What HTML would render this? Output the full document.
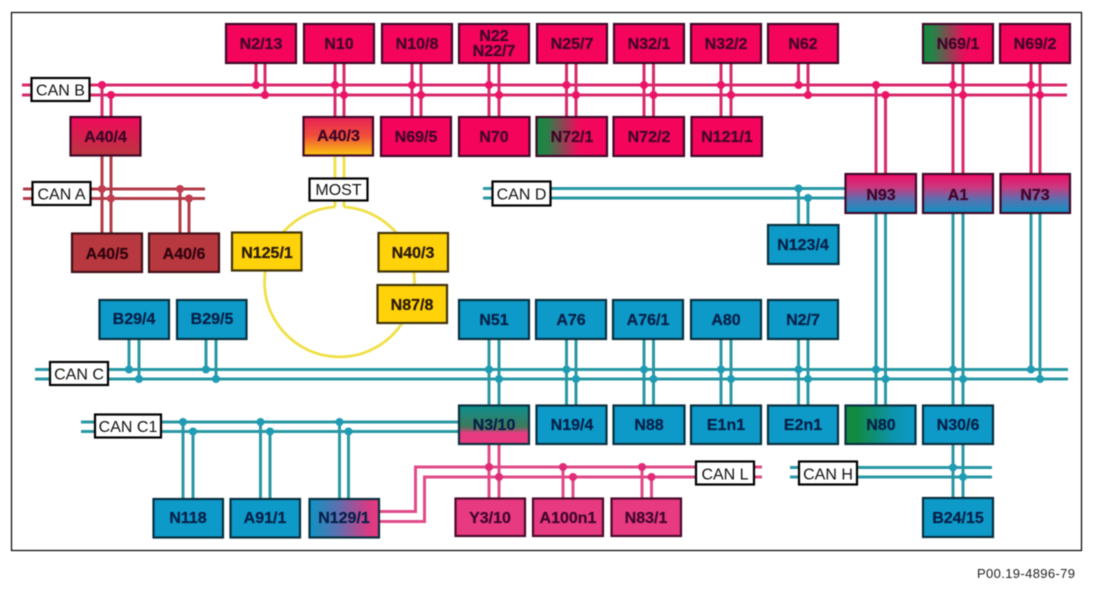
<!DOCTYPE html>
<html><head><meta charset="utf-8"><style>
html,body{margin:0;padding:0;background:#fff;width:1094px;height:592px;overflow:hidden}
svg{display:block;filter:blur(.4px)}
text{font-family:"Liberation Sans",sans-serif}
.b text{font-weight:bold;font-size:16px;text-anchor:middle;stroke-width:.25px}
.l rect{fill:#fff;stroke:#000;stroke-width:2.2}
.l text{font-size:16px;text-anchor:middle;fill:#111}
.bx rect{stroke-width:2.2}
.p rect{fill:#f5045c;stroke:#3f0828}.p text{fill:#3f0528;stroke:#3f0528}
.u rect{fill:#0d9ac8;stroke:#08303f}.u text{fill:#04204a;stroke:#04204a}
.r rect{fill:#b8383f;stroke:#3f1018}.r text{fill:#33040f;stroke:#33040f}
.y rect{fill:#ffd20a;stroke:#3f3208}.y text{fill:#2a1a08;stroke:#2a1a08}
.m rect{fill:#e83a80;stroke:#4a0a2c}.m text{fill:#42062e;stroke:#42062e}
</style></head><body>
<svg width="1094" height="592" viewBox="0 0 1094 592" xmlns="http://www.w3.org/2000/svg">
<defs>
<linearGradient id="g404" x1="0" y1="0" x2="0" y2="1"><stop offset="0" stop-color="#f00a5c"/><stop offset="1" stop-color="#bb3640"/></linearGradient>
<linearGradient id="g403" x1="0" y1="0" x2="0" y2="1"><stop offset="0" stop-color="#e82058"/><stop offset=".5" stop-color="#f0503a"/><stop offset="1" stop-color="#fcc80e"/></linearGradient>
<linearGradient id="gpb" x1="0" y1="0" x2="0" y2="1"><stop offset="0" stop-color="#ee0c66"/><stop offset=".35" stop-color="#c83a80"/><stop offset=".65" stop-color="#5a70b0"/><stop offset="1" stop-color="#0d94c4"/></linearGradient>
<linearGradient id="gn3" x1="0" y1="0" x2="0" y2="1"><stop offset="0" stop-color="#0c9090"/><stop offset=".55" stop-color="#3f7a5c"/><stop offset=".72" stop-color="#e83a80"/><stop offset="1" stop-color="#e83a80"/></linearGradient>
<linearGradient id="ggp" x1="0" y1="0" x2="1" y2="0"><stop offset="0" stop-color="#128a40"/><stop offset=".15" stop-color="#2a8048"/><stop offset=".6" stop-color="#f00a5c"/><stop offset="1" stop-color="#f5045c"/></linearGradient>
<linearGradient id="ggb" x1="0" y1="0" x2="1" y2="0"><stop offset="0" stop-color="#128a40"/><stop offset=".15" stop-color="#128a40"/><stop offset=".7" stop-color="#0d94b0"/><stop offset="1" stop-color="#0d9ac8"/></linearGradient>
<linearGradient id="gbm" x1="0" y1="0" x2="1" y2="0"><stop offset="0" stop-color="#0d94c4"/><stop offset=".4" stop-color="#5a70b0"/><stop offset=".85" stop-color="#d83a84"/><stop offset="1" stop-color="#e83a80"/></linearGradient>
</defs>
<rect x="11.5" y="12.5" width="1070" height="538" fill="#fff" stroke="#000" stroke-width="1.2"/>

<!-- MOST ring -->
<g fill="none" stroke="#f0e048" stroke-width="2.800">
<path d="M335 207 A75 75 0 1 0 344 207"/>
<path d="M335 156V207M344 156V207"/>
</g>

<!-- CAN B lines -->
<g fill="none" stroke="#d82a6c" stroke-width="3">
<path d="M22 85H1067M22 95H1067"/>
<path d="M102 85V117M111 95V117M256 63V85M265 63V95M335 63V117M344 63V117M412 63V117M421 63V117M489 63V117M499 63V117M566.500 63V117M576 63V117M644 63V117M653.500 63V117M721 63V117M731 63V117M798.500 63V85M808 63V95M876 85V174M885.500 95V174M953 63V174M963 63V174M1031 63V174M1040 63V174"/>
</g>
<g fill="#ec1468">
<circle cx="102" cy="85" r="4"/><circle cx="111" cy="95" r="4"/>
<circle cx="256" cy="85" r="4"/><circle cx="265" cy="95" r="4"/>
<circle cx="335" cy="85" r="4"/><circle cx="344" cy="95" r="4"/>
<circle cx="412" cy="85" r="4"/><circle cx="421" cy="95" r="4"/>
<circle cx="489" cy="85" r="4"/><circle cx="499" cy="95" r="4"/>
<circle cx="566.500" cy="85" r="4"/><circle cx="576" cy="95" r="4"/>
<circle cx="644" cy="85" r="4"/><circle cx="653.500" cy="95" r="4"/>
<circle cx="721" cy="85" r="4"/><circle cx="731" cy="95" r="4"/>
<circle cx="798.500" cy="85" r="4"/><circle cx="808" cy="95" r="4"/>
<circle cx="876" cy="85" r="4"/><circle cx="885.500" cy="95" r="4"/>
<circle cx="953" cy="85" r="4"/><circle cx="963" cy="95" r="4"/>
<circle cx="1031" cy="85" r="4"/><circle cx="1040" cy="95" r="4"/>
</g>

<!-- CAN A lines -->
<g fill="none" stroke="#b03c48" stroke-width="3">
<path d="M23 189H205M23 198.500H205"/>
<path d="M102 156V233M111 156V233M180 189V233M189 198.500V233"/>
</g>
<g fill="#c23c50">
<circle cx="102" cy="189" r="4"/><circle cx="111" cy="198.500" r="4"/>
<circle cx="180" cy="189" r="4"/><circle cx="189" cy="198.500" r="4"/>
</g>

<!-- CAN D and CAN C lines -->
<g fill="none" stroke="#2a98a4" stroke-width="3">
<path d="M483 188.500H845M483 198H845"/>
<path d="M798.500 188.500V225M808 198V225"/>
<path d="M35 369.500H1068M35 379H1068"/>
<path d="M81 422H459M81 431.500H459"/>
<path d="M790 467.500H992M790 477H992"/>
<path d="M129 339V369.500M139 339V379M206 339V369.500M216 339V379"/>
<path d="M489 339V405M499 339V405M566.500 339V405M576 339V405M644 339V405M653.500 339V405M721 339V405M731 339V405M798.500 339V405M808 339V405"/>
<path d="M876 213V405M885.500 213V405M953 213V405M963 213V405M1031 213V369.500M1040 213V379"/>
<path d="M953 444V498M963 444V498"/>
<path d="M183 422V499M193 431.500V499M260.500 422V499M270 431.500V499M339.500 422V499M348.500 431.500V499"/>
</g>
<g fill="#1f9cb4">
<circle cx="798.500" cy="188.500" r="4"/><circle cx="808" cy="198" r="4"/>
<circle cx="129" cy="369.500" r="4"/><circle cx="139" cy="379" r="4"/>
<circle cx="206" cy="369.500" r="4"/><circle cx="216" cy="379" r="4"/>
<circle cx="489" cy="369.500" r="4"/><circle cx="499" cy="379" r="4"/>
<circle cx="566.500" cy="369.500" r="4"/><circle cx="576" cy="379" r="4"/>
<circle cx="644" cy="369.500" r="4"/><circle cx="653.500" cy="379" r="4"/>
<circle cx="721" cy="369.500" r="4"/><circle cx="731" cy="379" r="4"/>
<circle cx="798.500" cy="369.500" r="4"/><circle cx="808" cy="379" r="4"/>
<circle cx="876" cy="369.500" r="4"/><circle cx="885.500" cy="379" r="4"/>
<circle cx="953" cy="369.500" r="4"/><circle cx="963" cy="379" r="4"/>
<circle cx="1031" cy="369.500" r="4"/><circle cx="1040" cy="379" r="4"/>
<circle cx="183" cy="422" r="4"/><circle cx="193" cy="431.500" r="4"/>
<circle cx="260.500" cy="422" r="4"/><circle cx="270" cy="431.500" r="4"/>
<circle cx="339.500" cy="422" r="4"/><circle cx="348.500" cy="431.500" r="4"/>
<circle cx="953" cy="467.500" r="4"/><circle cx="963" cy="477" r="4"/>
</g>

<!-- CAN L lines -->
<g fill="none" stroke="#e04a88" stroke-width="3">
<path d="M379 511.500H415.500V467H762M379 521.500H424.500V477H762"/>
<path d="M489 444V498M499 444V498M563 467V498M573 477V498M642 467V498M651.500 477V498"/>
</g>
<g fill="#e02c78">
<circle cx="489" cy="467" r="4"/><circle cx="499" cy="477" r="4"/>
<circle cx="563" cy="467" r="4"/><circle cx="573" cy="477" r="4"/>
<circle cx="642" cy="467" r="4"/><circle cx="651.500" cy="477" r="4"/>
</g>

<!-- Bus labels -->
<g class="l">
<rect x="31.500" y="78" width="58" height="23"/><text x="60.500" y="95.500">CAN B</text>
<rect x="32.500" y="182" width="58" height="23"/><text x="61.500" y="199.500">CAN A</text>
<rect x="50" y="362" width="58" height="23"/><text x="79" y="379.500">CAN C</text>
<rect x="95" y="414.500" width="66" height="23"/><text x="128" y="432">CAN C1</text>
<rect x="492.500" y="181.500" width="58" height="24"/><text x="521.500" y="199.500">CAN D</text>
<rect x="696" y="461.500" width="58" height="23"/><text x="725" y="479.500">CAN L</text>
<rect x="799" y="461.500" width="58" height="23"/><text x="828" y="479.500">CAN H</text>
<rect x="309.500" y="178.500" width="58" height="22"/><text x="338.500" y="195">MOST</text>
</g>

<!-- Pink boxes -->
<g class="b bx p">
<rect x="226" y="24" width="70" height="39"/><text x="261" y="49">N2/13</text>
<rect x="304" y="24" width="70" height="39"/><text x="339" y="49">N10</text>
<rect x="382" y="24" width="70" height="39"/><text x="417" y="49">N10/8</text>
<rect x="459" y="24" width="70" height="39"/><text x="494" y="41">N22</text><text x="494" y="56">N22/7</text>
<rect x="537" y="24" width="70" height="39"/><text x="572" y="49">N25/7</text>
<rect x="614" y="24" width="70" height="39"/><text x="649" y="49">N32/1</text>
<rect x="691" y="24" width="70" height="39"/><text x="726" y="49">N32/2</text>
<rect x="768" y="24" width="70" height="39"/><text x="803" y="49">N62</text>
<rect x="923" y="24" width="70" height="39" style="fill:url(#ggp)"/><text x="958" y="49">N69/1</text>
<rect x="1000" y="24" width="70" height="39"/><text x="1035" y="49">N69/2</text>
<rect x="70.500" y="117" width="70" height="38.500" style="fill:url(#g404)"/><text x="105.500" y="142">A40/4</text>
<rect x="303.500" y="117" width="69.500" height="38.500" style="fill:url(#g403)"/><text x="338.500" y="141">A40/3</text>
<rect x="381" y="117" width="70" height="39"/><text x="416" y="142">N69/5</text>
<rect x="459" y="117" width="70.500" height="39"/><text x="494" y="142">N70</text>
<rect x="536.500" y="117" width="70.500" height="39" style="fill:url(#ggp)"/><text x="572" y="142">N72/1</text>
<rect x="613.500" y="117" width="70.500" height="39"/><text x="649" y="142">N72/2</text>
<rect x="691.500" y="117" width="70.500" height="39"/><text x="727" y="142">N121/1</text>
<rect x="845.500" y="174" width="70.500" height="39" style="fill:url(#gpb)"/><text x="881" y="200">N93</text>
<rect x="923" y="174" width="70" height="39" style="fill:url(#gpb)"/><text x="958" y="200">A1</text>
<rect x="1000.500" y="174" width="69.500" height="39" style="fill:url(#gpb)"/><text x="1035" y="200">N73</text>
</g>

<!-- Red boxes -->
<g class="b bx r">
<rect x="72" y="233.500" width="70" height="38.500"/><text x="107" y="259">A40/5</text>
<rect x="149" y="233.500" width="70" height="38.500"/><text x="184" y="259">A40/6</text>
</g>

<!-- Yellow boxes -->
<g class="b bx y">
<rect x="232" y="232.500" width="69.500" height="38"/><text x="267" y="258">N125/1</text>
<rect x="378.500" y="233" width="69.500" height="38.500"/><text x="413" y="258">N40/3</text>
<rect x="377.500" y="285" width="69.500" height="38"/><text x="412" y="310">N87/8</text>
</g>

<!-- Blue boxes -->
<g class="b bx u">
<rect x="768" y="225" width="70.500" height="39"/><text x="803" y="250">N123/4</text>
<rect x="99.500" y="300" width="69.500" height="39"/><text x="134" y="324">B29/4</text>
<rect x="177" y="300" width="69.500" height="39"/><text x="212" y="324">B29/5</text>
<rect x="459" y="300" width="70" height="39"/><text x="494" y="325">N51</text>
<rect x="536" y="300" width="70" height="39"/><text x="571" y="325">A76</text>
<rect x="613" y="300" width="70" height="39"/><text x="648" y="325">A76/1</text>
<rect x="691" y="300" width="70" height="39"/><text x="726" y="325">A80</text>
<rect x="768" y="300" width="70" height="39"/><text x="803" y="325">N2/7</text>
<rect x="459" y="405.500" width="70" height="38.500" style="fill:url(#gn3)"/><text x="494" y="430">N3/10</text>
<rect x="536.500" y="405.500" width="70" height="38.500"/><text x="572" y="430">N19/4</text>
<rect x="613.500" y="405.500" width="71" height="38.500"/><text x="649" y="430">N88</text>
<rect x="691" y="405.500" width="70" height="38.500"/><text x="726" y="430">E1n1</text>
<rect x="768" y="405.500" width="70" height="38.500"/><text x="803" y="430">E2n1</text>
<rect x="845.500" y="405.500" width="70" height="38.500" style="fill:url(#ggb)"/><text x="881" y="430">N80</text>
<rect x="923" y="405.500" width="70" height="38.500"/><text x="958" y="430">N30/6</text>
<rect x="153.500" y="499" width="69.500" height="38.500"/><text x="188" y="523">N118</text>
<rect x="230.500" y="499" width="69.500" height="38.500"/><text x="265" y="523">A91/1</text>
<rect x="309.500" y="499" width="69.500" height="38.500" style="fill:url(#gbm)"/><text x="344" y="523">N129/1</text>
<rect x="923" y="498" width="70" height="39"/><text x="958" y="523">B24/15</text>
</g>

<!-- Magenta boxes -->
<g class="b bx m">
<rect x="455.500" y="498.500" width="69.500" height="37.500"/><text x="490" y="523">Y3/10</text>
<rect x="533" y="498.500" width="70" height="37.500"/><text x="568" y="523">A100n1</text>
<rect x="611.500" y="498.500" width="69.500" height="37.500"/><text x="646" y="523">N83/1</text>
</g>

<text x="977" y="578" font-size="13" textLength="98" lengthAdjust="spacing" fill="#222">P00.19-4896-79</text>
</svg>
</body></html>
